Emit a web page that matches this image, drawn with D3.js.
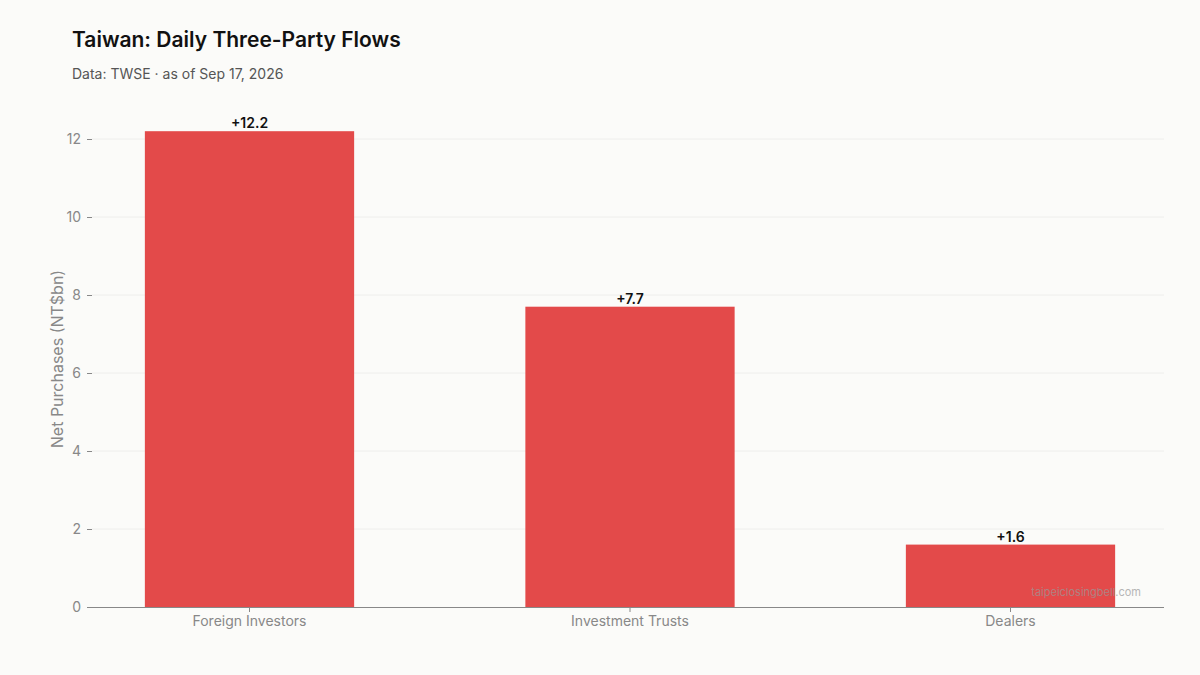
<!DOCTYPE html>
<html><head><meta charset="utf-8">
<script src="https://cdn.jsdelivr.net/npm/d3@7"></script>
<style>body{margin:0;background:#fbfbf9;font-family:Inter,sans-serif}</style>
</head><body><svg width="1200" height="675"></svg>
<script>
const categories=["Foreign Investors","Investment Trusts","Dealers"];
const values=[12.2,7.7,1.6];
const labels=["+12.2","+7.7","+1.6"];
const yTicks=[0,2,4,6,8,10,12];
const svg=d3.select("svg");
svg.append("rect").attr("width",1200).attr("height",675).attr("fill","#fbfbf9");
const x=d3.scaleBand().domain(categories).range([59.25,1200.75]).paddingInner(0.45).paddingOuter(0.225);
const y=d3.scaleLinear().domain([0,12]).range([607,139]);
const g=svg.append("g");
g.selectAll(".grid").data(yTicks.slice(1)).join("line").attr("x1",92).attr("x2",1164)
 .attr("y1",d=>y(d)).attr("y2",d=>y(d)).attr("stroke","#eeeeec").attr("stroke-width",1);
g.selectAll(".bar").data(values).join("rect").attr("x",(d,i)=>x(categories[i])).attr("width",x.bandwidth())
 .attr("y",d=>y(d)).attr("height",d=>y(0)-y(d)).attr("fill","#e34a4a");
g.selectAll(".lab").data(values).join("text").attr("x",(d,i)=>x(categories[i])+x.bandwidth()/2).attr("y",d=>y(d)-3)
 .attr("text-anchor","middle").attr("font-size",14).attr("font-weight",600).attr("fill","#111").text((d,i)=>labels[i]);
const ya=svg.append("g").attr("transform","translate(92,0)").call(d3.axisLeft(y).tickValues(yTicks).tickSize(5).tickPadding(6));
ya.select(".domain").remove();
ya.selectAll("line").attr("stroke","#888");
ya.selectAll("text").attr("font-size",14).attr("fill","#888").attr("font-family","Inter");
const xa=svg.append("g").attr("transform","translate(0,607)").call(d3.axisBottom(x).tickSize(5).tickPadding(4));
xa.select(".domain").remove();
xa.selectAll("line").attr("stroke","#888");
xa.selectAll("text").attr("font-size",14).attr("fill","#888").attr("font-family","Inter");
svg.append("line").attr("x1",92).attr("x2",1164).attr("y1",607.5).attr("y2",607.5).attr("stroke","#888").attr("stroke-width",1.2);
svg.append("text").attr("transform","translate(63,359) rotate(-90)").attr("text-anchor","middle")
 .attr("font-size",16).attr("fill","#888").text("Net Purchases (NT$bn)");
svg.append("text").attr("x",72).attr("y",47).attr("font-size",21).attr("font-weight",600).attr("fill","#111").text("Taiwan: Daily Three-Party Flows");
svg.append("text").attr("x",72).attr("y",79).attr("font-size",14).attr("fill","#555").text("Data: TWSE · as of Sep 17, 2026");
svg.append("text").attr("x",1141).attr("y",596).attr("text-anchor","end").attr("font-size",11).attr("fill","#999").attr("opacity",0.7).text("taipeiclosingbell.com");
</script></body></html>
